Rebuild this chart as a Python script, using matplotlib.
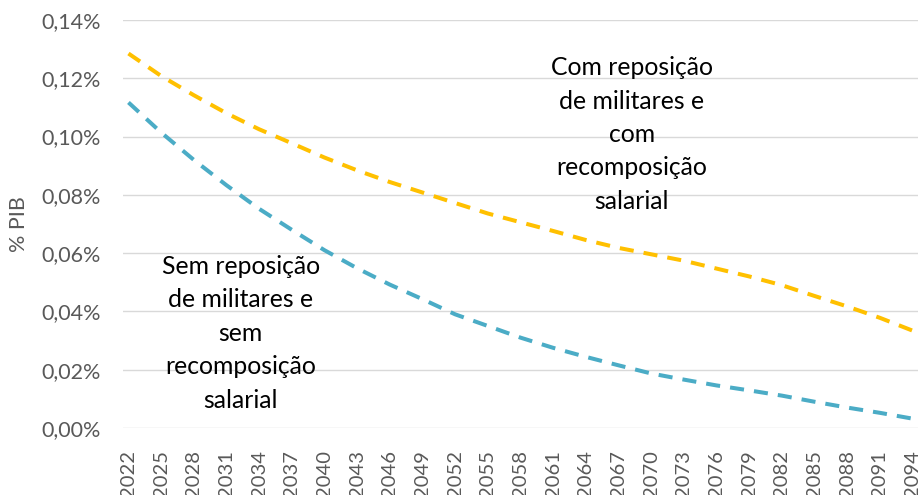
import matplotlib
matplotlib.use('Agg')
import matplotlib.pyplot as plt
from matplotlib.ticker import FuncFormatter

plt.rcParams.update({
    'font.family': ['Lato', 'DejaVu Sans'],
    'savefig.format': 'png',
})

# annual series, read at the labelled years (% of GDP)
years = [2022, 2025, 2028, 2031, 2034, 2037, 2040, 2043, 2046, 2049, 2052,
         2055, 2058, 2061, 2064, 2067, 2070, 2073, 2076, 2079, 2082, 2085,
         2088, 2091, 2094]
com_repos = [0.1285, 0.1208, 0.1142, 0.1080, 0.1025, 0.0977, 0.0928, 0.0884,
             0.0844, 0.0808, 0.0772, 0.0736, 0.0706, 0.0676, 0.0645, 0.0618,
             0.0596, 0.0574, 0.0547, 0.0520, 0.0490, 0.0453, 0.0417, 0.0378,
             0.0334]
sem_repos = [0.1117, 0.1014, 0.0920, 0.0833, 0.0752, 0.0680, 0.0610, 0.0548,
             0.0492, 0.0442, 0.0390, 0.0350, 0.0310, 0.0275, 0.0244, 0.0215,
             0.0187, 0.0166, 0.0146, 0.0129, 0.0111, 0.0090, 0.0070, 0.0052,
             0.0032]
tick_years = years
y_ticks = [0.00, 0.02, 0.04, 0.06, 0.08, 0.10, 0.12, 0.14]

label_com = 'Com reposição\nde militares e\ncom\nrecomposição\nsalarial'
label_sem = 'Sem reposição\nde militares e\nsem\nrecomposição\nsalarial'

grey = '#595959'

fig = plt.figure(figsize=(9.18, 4.95), dpi=100)
ax = fig.add_axes([0.134, 0.1354, 0.866, 0.8242])

ax.plot(years, com_repos, color='#FFC000', lw=2.9, dashes=(3.5, 2.5),
        dash_capstyle='butt')
ax.plot(years, sem_repos, color='#4BACC6', lw=2.9, dashes=(3.5, 2.5),
        dash_capstyle='butt')

ax.set_xlim(2021.5, 2094.5)
ax.set_ylim(0, 0.14)
ax.set_yticks(y_ticks)
ax.yaxis.set_major_formatter(
    FuncFormatter(lambda v, p: ('%.2f%%' % v).replace('.', ',')))
ax.set_xticks(tick_years)
ax.set_xticklabels([str(y) for y in tick_years], rotation=90, va='top')

ax.grid(axis='y', color='#D9D9D9', lw=1.0)
ax.set_axisbelow(True)
for s in ax.spines.values():
    s.set_visible(False)
ax.tick_params(axis='both', length=0, labelcolor=grey)
ax.tick_params(axis='y', pad=16, labelsize=15.5)
ax.tick_params(axis='x', pad=16, labelsize=14.5)
ax.set_ylabel('% PIB', fontsize=15.5, color=grey)
ax.yaxis.set_label_coords(-0.118, 0.5)

ax.text(2068.2, 0.1007, label_com, ha='center', va='center', fontsize=17.8,
        color='black', linespacing=1.55)
ax.text(2032.3, 0.0325, label_sem, ha='center', va='center', fontsize=17.8,
        color='black', linespacing=1.55)

fig.savefig('out.png', dpi=100)
